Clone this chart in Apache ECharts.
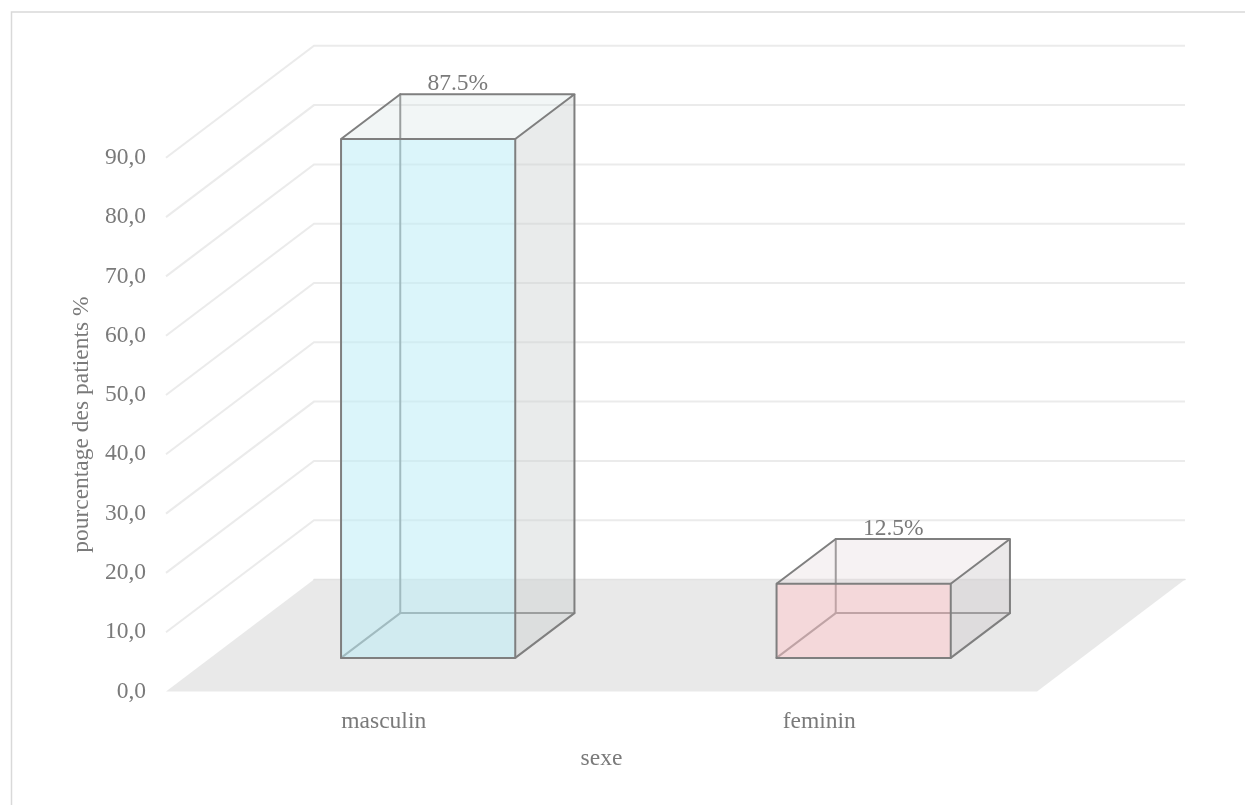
<!DOCTYPE html>
<html>
<head>
<meta charset="utf-8">
<script src="https://cdn.jsdelivr.net/npm/echarts@6/dist/echarts.min.js"></script>
<style>
  html, body { margin: 0; padding: 0; background: #ffffff; }
  #chart { width: 1245px; height: 805px; }
</style>
</head>
<body>
<div id="chart"></div>
<script>
// Distribution des patients selon le sexe
const categories = ['masculin', 'feminin'];
const percentages = [87.5, 12.5];
const yTicks = [0, 10, 20, 30, 40, 50, 60, 70, 80, 90];

// Oblique projection of the chart depth (pixels)
const DEPTH_X = 148;
const DEPTH_Y = -112;
const BAR_FRONT = 0.3;   // bar front plane as a fraction of the depth
const BAR_BACK = 0.7;    // bar back plane
const BAR_RATIO = 0.4;   // bar width relative to the category band

const TEXT = '#7a7a7a';
const FONT = 'Liberation Serif, Times New Roman, serif';
const EDGE = '#7f7f7f';

const barStyles = [
  { front: 'rgba(190,236,246,0.55)', top: 'rgba(215,226,226,0.32)', side: 'rgba(200,205,205,0.4)' },
  { front: 'rgba(255,199,203,0.5)',  top: 'rgba(226,214,217,0.32)', side: 'rgba(205,200,202,0.4)' }
];

function poly(points, fill, z2) {
  return { type: 'polygon', z2: z2 || 0, shape: { points: points }, style: { fill: fill, stroke: 'none' } };
}
function seg(a, b, color, width, z2) {
  return { type: 'line', z2: z2 || 0, shape: { x1: a[0], y1: a[1], x2: b[0], y2: b[1] },
           style: { stroke: color, lineWidth: width, lineCap: 'round' } };
}

// Side wall and back wall gridlines, plus the floor at value 0
function renderWalls(params, api) {
  const cs = params.coordSys;
  const v = api.value(1);
  const y = api.coord([0, v])[1];
  const x0 = cs.x;
  const x1 = cs.x + cs.width;
  const children = [];
  if (v === 0) {
    children.push(poly([[x0, y], [x1, y], [x1 + DEPTH_X, y + DEPTH_Y], [x0 + DEPTH_X, y + DEPTH_Y]], '#e9e9e9'));
    children.push(seg([x0 + DEPTH_X, y + DEPTH_Y], [x1 + DEPTH_X, y + DEPTH_Y], '#e3e3e3', 1.5, 1));
  } else {
    children.push({
      type: 'polyline',
      shape: { points: [[x0, y], [x0 + DEPTH_X, y + DEPTH_Y], [x1 + DEPTH_X, y + DEPTH_Y]] },
      style: { stroke: '#ebebeb', lineWidth: 2, fill: 'none' }
    });
  }
  return { type: 'group', children: children };
}

// 3D box for each category
function renderBars(params, api) {
  const i = api.value(0);
  const v = api.value(1);
  const base = api.coord([i, 0]);
  const top = api.coord([i, v]);
  const half = api.size([1, 0])[0] * BAR_RATIO / 2;
  const st = barStyles[i % barStyles.length];

  const fx = DEPTH_X * BAR_FRONT, fy = DEPTH_Y * BAR_FRONT;
  const bx = DEPTH_X * BAR_BACK, by = DEPTH_Y * BAR_BACK;
  const L = base[0] - half, R = base[0] + half;
  // front face corners
  const fbl = [L + fx, base[1] + fy], fbr = [R + fx, base[1] + fy];
  const ftl = [L + fx, top[1] + fy],  ftr = [R + fx, top[1] + fy];
  // back face corners
  const bbl = [L + bx, base[1] + by], bbr = [R + bx, base[1] + by];
  const btl = [L + bx, top[1] + by],  btr = [R + bx, top[1] + by];

  const children = [
    // edges hidden behind the faces
    seg(btl, bbl, EDGE, 2, 1),
    seg(bbl, bbr, EDGE, 2, 1),
    seg(fbl, bbl, EDGE, 2, 1),
    // translucent faces
    poly([ftl, ftr, btr, btl], st.top, 2),
    poly([ftr, btr, bbr, fbr], st.side, 2),
    poly([fbl, fbr, ftr, ftl], st.front, 3),
    // visible edges
    { type: 'polygon', z2: 4, shape: { points: [fbl, fbr, ftr, ftl] },
      style: { fill: 'none', stroke: EDGE, lineWidth: 2, lineJoin: 'round' } },
    { type: 'polyline', z2: 4, shape: { points: [ftl, btl, btr, ftr] },
      style: { fill: 'none', stroke: EDGE, lineWidth: 2, lineJoin: 'round' } },
    { type: 'polyline', z2: 4, shape: { points: [btr, bbr, fbr] },
      style: { fill: 'none', stroke: EDGE, lineWidth: 2, lineJoin: 'round' } },
    // value label above the top face
    { type: 'text', z2: 5,
      style: {
        text: v.toFixed(1) + '%',
        x: (ftl[0] + ftr[0] + btl[0] + btr[0]) / 4,
        y: btl[1] + 2,
        align: 'center', verticalAlign: 'bottom',
        fill: TEXT, fontSize: 23.5, fontFamily: FONT
      } }
  ];
  return { type: 'group', children: children };
}

const chart = echarts.init(document.getElementById('chart'), null, { renderer: 'canvas' });

chart.setOption({
  backgroundColor: '#ffffff',
  animation: false,
  graphic: [{
    type: 'rect', left: 9, top: 9.5, z: 0,
    shape: { x: 0, y: 0, width: 1300, height: 900 },
    style: { fill: 'none', stroke: '#d9d9d9', lineWidth: 1.5 }
  }],
  grid: { left: 166, right: 208, top: 157.8, bottom: 113.5, containLabel: false },
  xAxis: {
    type: 'category',
    data: categories,
    boundaryGap: true,
    axisLine: { show: false },
    axisTick: { show: false },
    splitLine: { show: false },
    axisLabel: { color: TEXT, fontSize: 23.5, fontFamily: FONT, margin: 18 },
    name: 'sexe',
    nameLocation: 'middle',
    nameGap: 55,
    nameTextStyle: { color: TEXT, fontSize: 23.5, fontFamily: FONT }
  },
  yAxis: {
    type: 'value',
    min: 0,
    max: 90,
    interval: 10,
    axisLine: { show: false },
    axisTick: { show: false },
    splitLine: { show: false },
    axisLabel: {
      color: TEXT, fontSize: 23.5, fontFamily: FONT, margin: 20,
      formatter: function (val) { return val.toFixed(1).replace('.', ','); }
    },
    name: 'pourcentage des patients %',
    nameLocation: 'middle',
    nameGap: 63,
    nameTextStyle: { color: TEXT, fontSize: 23.5, fontFamily: FONT }
  },
  series: [
    {
      type: 'custom',
      name: 'walls',
      z: 1,
      silent: true,
      renderItem: renderWalls,
      encode: { x: 0, y: 1 },
      data: yTicks.map(function (t) { return [0, t]; })
    },
    {
      type: 'custom',
      name: 'sexe',
      z: 2,
      renderItem: renderBars,
      encode: { x: 0, y: 1 },
      data: percentages.map(function (p, i) { return [i, p]; })
    }
  ]
});
</script>
</body>
</html>
